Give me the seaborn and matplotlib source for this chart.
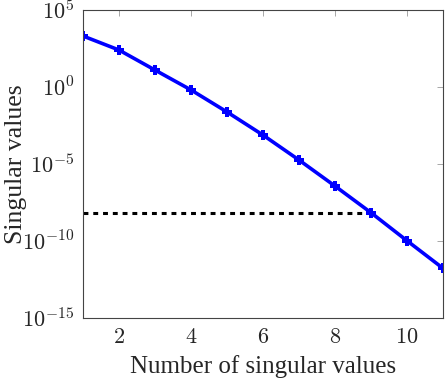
import matplotlib
matplotlib.use("Agg")
import matplotlib.pyplot as plt
import seaborn as sns
import numpy as np
import pandas as pd

# data
n_values = [1, 2, 3, 4, 5, 6, 7, 8, 9, 10, 11]
log_sv = [3.31, 2.40, 1.10, -0.19, -1.62, -3.12, -4.74, -6.43, -8.16, -9.98, -11.77]
threshold_x = [1, 9]
threshold_y = [10 ** -8.16, 10 ** -8.16]

sv = [10 ** v for v in log_sv]
df = pd.DataFrame({"n": n_values, "sv": sv})

sns.set_style("white")
plt.rcParams["font.family"] = ["Liberation Serif", "DejaVu Serif"]
plt.rcParams["mathtext.fontset"] = "cm"

fig = plt.figure(figsize=(4.48, 3.81), dpi=100)
ax = fig.add_axes([0.185, 0.165, 0.804, 0.809])

sns.lineplot(x=threshold_x, y=threshold_y, ax=ax, color="black",
             linewidth=2.2, linestyle=(0, (1.6, 1.6)))
sns.lineplot(data=df, x="n", y="sv", ax=ax, color="#0000ff", linewidth=2.6,
             marker="P", markersize=6.5, markeredgewidth=0)

ax.set_yscale("log")
ax.set_xlim(1, 11)
ax.set_ylim(1e-15, 1e5)
ax.set_xticks([2, 4, 6, 8, 10])
ax.set_xticklabels([r"$2$", r"$4$", r"$6$", r"$8$", r"$10$"])
ax.set_yticks([1e-15, 1e-10, 1e-5, 1e0, 1e5])
ax.yaxis.set_minor_locator(matplotlib.ticker.NullLocator())
ax.set_yticklabels([r"$10^{-15}$", r"$10^{-10}$", r"$10^{-5}$", r"$10^{0}$", r"$10^{5}$"])

ax.tick_params(direction="in", top=True, right=True, length=4, width=0.6,
               color="#999999", labelsize=16)
ax.tick_params(axis="x", pad=8)
ax.tick_params(axis="y", pad=6)
for s in ax.spines.values():
    s.set_color("#444444")
    s.set_linewidth(0.8)

ax.set_xlabel("Number of singular values", fontsize=18, labelpad=5)
ax.set_ylabel("Singular values", fontsize=18.5, labelpad=-3)

fig.savefig("out.png", dpi=100)
